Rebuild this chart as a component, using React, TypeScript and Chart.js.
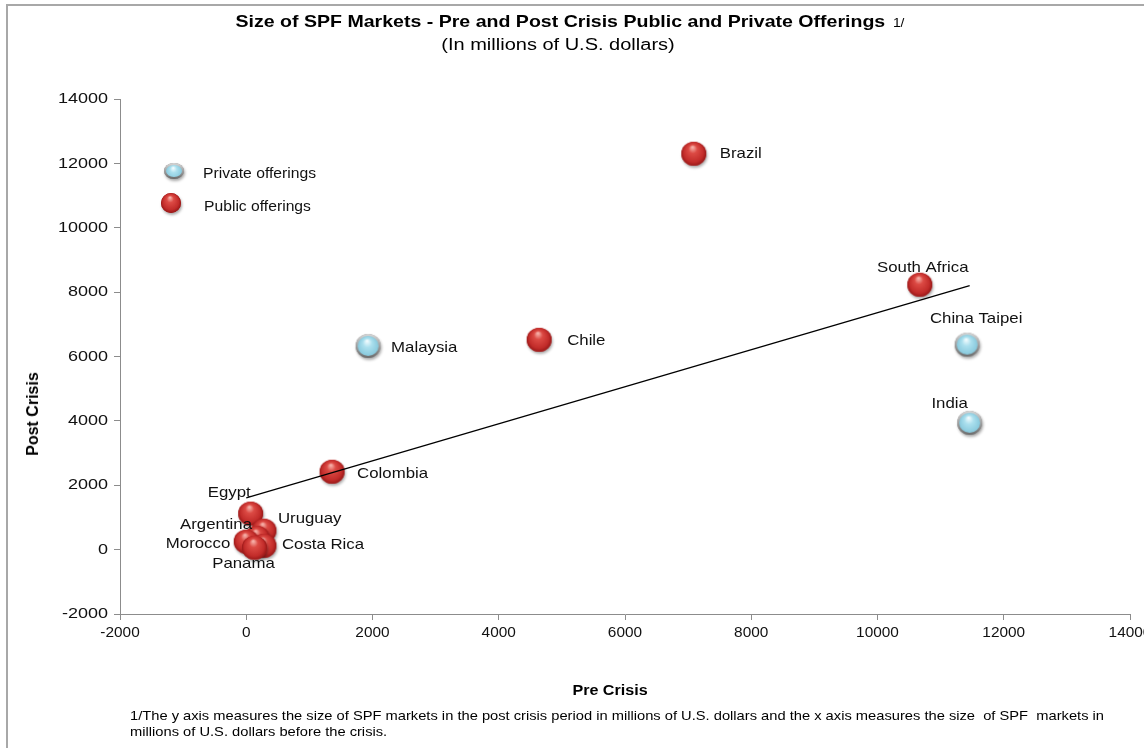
import React, { useEffect, useRef } from "react";
import { Chart, registerables } from "chart.js";

Chart.register(...registerables);

// ---- Data ----
const privateCountries = ["Malaysia", "China Taipei", "India"];
const privatePre = [1930, 11420, 11460];
const privatePost = [6330, 6370, 3940];

const publicCountries = ["Brazil", "South Africa", "Chile", "Colombia", "Egypt", "Uruguay", "Argentina", "Morocco", "Costa Rica", "Panama"];
const publicPre = [7090, 10670, 4640, 1360, 70, 280, 170, 0, 280, 130];
const publicPost = [12300, 8230, 6520, 2420, 1120, 590, 370, 250, 120, 60];

const trendPre = [0, 11460];
const trendPost = [1610, 8200];

const axisMin = -2000;
const axisMax = 14000;
const axisStep = 2000;

const legendLabels = ["Private offerings", "Public offerings"];

// label placement styles (not data)
const labelStyle: Record<string, [string, number, number]> = {
  Brazil: ["left", 26, 0],
  "South Africa": ["center", 3, -17],
  "China Taipei": ["center", 9, -26],
  India: ["center", -20, -19],
  Malaysia: ["left", 23, 2],
  Chile: ["left", 28, 1],
  Colombia: ["left", 25, 2],
  Egypt: ["right", 0, -21],
  Uruguay: ["left", 14, -12],
  Argentina: ["right", -5, -13],
  Morocco: ["right", -16, 2],
  "Costa Rica": ["left", 18, -1],
  Panama: ["center", -11, 16],
};

const FONT = "'Liberation Sans', Arial, sans-serif";

function makeBall(kind: "red" | "blue", r: number, ry?: number): HTMLCanvasElement {
  const rh = ry ?? r;
  const pad = 6;
  const c = document.createElement("canvas");
  c.width = Math.ceil(r * 2 + pad * 2);
  c.height = Math.ceil(rh * 2 + pad * 2);
  const ctx = c.getContext("2d")!;
  const cx = c.width / 2;
  const cy = c.height / 2;
  ctx.save();
  ctx.shadowColor = "rgba(0,0,0,0.35)";
  ctx.shadowBlur = 3;
  ctx.shadowOffsetX = 1;
  ctx.shadowOffsetY = 2;
  ctx.beginPath();
  ctx.ellipse(cx, cy, r, rh, 0, 0, Math.PI * 2);
  ctx.fillStyle = kind === "red" ? "#b82424" : "#8a8a8a";
  ctx.fill();
  ctx.restore();
  if (kind === "red") {
    const g = ctx.createRadialGradient(cx - r * 0.1, cy - rh * 0.55, r * 0.05, cx, cy, r * 1.05);
    g.addColorStop(0, "#f6b0a8");
    g.addColorStop(0.3, "#dc4a44");
    g.addColorStop(0.75, "#c22c2a");
    g.addColorStop(1, "#8e1414");
    ctx.beginPath();
    ctx.ellipse(cx, cy, r, rh, 0, 0, Math.PI * 2);
    ctx.fillStyle = g;
    ctx.fill();
  } else {
    ctx.beginPath();
    ctx.ellipse(cx, cy, r, rh, 0, 0, Math.PI * 2);
    const rg = ctx.createLinearGradient(cx, cy - rh, cx, cy + rh);
    rg.addColorStop(0, "#d8d8d8");
    rg.addColorStop(1, "#6a6a6a");
    ctx.fillStyle = rg;
    ctx.fill();
    const ir = r - 2;
    const irh = rh - 2;
    const g = ctx.createRadialGradient(cx - ir * 0.1, cy - irh * 0.5, ir * 0.05, cx, cy, ir);
    g.addColorStop(0, "#f0fbfe");
    g.addColorStop(0.4, "#ace0ee");
    g.addColorStop(1, "#86c8dc");
    ctx.beginPath();
    ctx.ellipse(cx, cy, ir, irh, 0, 0, Math.PI * 2);
    ctx.fillStyle = g;
    ctx.fill();
  }
  return c;
}

function stretchText(ctx: CanvasRenderingContext2D, text: string, x: number, y: number, sx: number) {
  ctx.save();
  ctx.translate(x, y);
  ctx.scale(sx, 1);
  ctx.fillText(text, 0, 0);
  ctx.restore();
}

export default function App() {
  const ref = useRef<HTMLCanvasElement | null>(null);

  useEffect(() => {
    if (!ref.current) return;
    const redBall = makeBall("red", 12.5, 12);
    const blueBall = makeBall("blue", 12.5, 12);
    const legendBlue = makeBall("blue", 10, 8);
    const legendRed = makeBall("red", 10, 10);

    const labelPlugin = {
      id: "pointLabels",
      afterDraw(chart: any) {
        const ctx = chart.ctx;
        const a = chart.chartArea;
        ctx.save();
        ctx.fillStyle = "#111";
        ctx.textBaseline = "middle";
        // tick labels
        const xs = chart.scales.x;
        const ys = chart.scales.y;
        ctx.font = `15px ${FONT}`;
        ctx.textAlign = "right";
        ys.ticks.forEach((t: any) => {
          stretchText(ctx, String(t.value), a.left - 12, ys.getPixelForValue(t.value), 1.2);
        });
        ctx.font = `14px ${FONT}`;
        ctx.textAlign = "center";
        xs.ticks.forEach((t: any) => {
          stretchText(ctx, String(t.value), xs.getPixelForValue(t.value), a.bottom + 19, 1.1);
        });
        // point labels
        ctx.font = `15px ${FONT}`;
        chart.data.datasets.forEach((ds: any, di: number) => {
          if (!ds.names) return;
          const meta = chart.getDatasetMeta(di);
          meta.data.forEach((el: any, i: number) => {
            const name = ds.names[i];
            const st = labelStyle[name] || ["left", 20, 0];
            ctx.textAlign = st[0];
            stretchText(ctx, name, el.x + st[1], el.y + st[2], 1.12);
          });
        });
        // legend
        const lx = a.left + 54;
        const ly = a.top + 72;
        ctx.drawImage(legendBlue, lx - legendBlue.width / 2, ly - legendBlue.height / 2);
        ctx.drawImage(legendRed, lx - 3 - legendRed.width / 2, ly + 32 - legendRed.height / 2);
        ctx.font = `14px ${FONT}`;
        ctx.textAlign = "left";
        stretchText(ctx, legendLabels[0], lx + 29, ly + 3, 1.12);
        stretchText(ctx, legendLabels[1], lx + 30, ly + 36, 1.12);
        ctx.restore();
      },
    };

    const chart = new Chart(ref.current, {
      type: "scatter",
      data: {
        datasets: [
          {
            label: "Trend",
            data: trendPre.map((x, i) => ({ x, y: trendPost[i] })),
            showLine: true,
            borderColor: "#000",
            borderWidth: 1.3,
            pointRadius: 0,
            order: 0,
          } as any,
          {
            label: legendLabels[0],
            names: privateCountries,
            data: privatePre.map((x, i) => ({ x, y: privatePost[i] })),
            pointStyle: blueBall,
            order: 1,
          } as any,
          {
            label: legendLabels[1],
            names: publicCountries,
            data: publicPre.map((x, i) => ({ x, y: publicPost[i] })),
            pointStyle: redBall,
            order: 1,
          } as any,
        ],
      },
      options: {
        responsive: false,
        animation: false,
        events: [],
        layout: { padding: { left: 0, top: 99, right: 14, bottom: 0 } },
        plugins: { legend: { display: false }, tooltip: { enabled: false }, title: { display: false } },
        scales: {
          x: {
            type: "linear",
            min: axisMin,
            max: axisMax,
            afterFit: (s: any) => {
              s.height = 134;
              s.paddingLeft = 0;
              s.paddingRight = 0;
            },
            ticks: { stepSize: axisStep, display: false },
            grid: { drawOnChartArea: false, drawTicks: true, tickLength: 6, color: "#8c8c8c" },
            border: { display: true, color: "#8c8c8c", width: 1 },
          },
          y: {
            type: "linear",
            min: axisMin,
            max: axisMax,
            afterFit: (s: any) => {
              s.width = 120;
              s.paddingTop = 0;
              s.paddingBottom = 0;
            },
            ticks: { stepSize: axisStep, display: false },
            grid: { drawOnChartArea: false, drawTicks: true, tickLength: 6, color: "#8c8c8c" },
            border: { display: true, color: "#8c8c8c", width: 1 },
          },
        },
      },
      plugins: [labelPlugin],
    });
    return () => chart.destroy();
  }, []);

  return (
    <div style={{ position: "fixed", left: 0, top: 0, width: 1144, height: 748, background: "#fff", overflow: "hidden", fontFamily: FONT }}>
      <div style={{ position: "absolute", left: 6, top: 4, width: 1160, height: 780, borderLeft: "2px solid #a8a8a8", borderTop: "2px solid #a8a8a8" }} />
      <canvas ref={ref} width={1144} height={748} style={{ position: "absolute", left: 0, top: 0 }} />
      <div style={{ position: "absolute", left: 570, top: 22, transform: "translate(-50%,-50%) scaleX(1.15)", color: "#000", whiteSpace: "nowrap" }}>
        <span style={{ fontWeight: "bold", fontSize: 17 }}>Size of SPF Markets - Pre and Post Crisis Public and Private Offerings</span>
        <span style={{ fontSize: 12 }}>&nbsp; 1/</span>
      </div>
      <div style={{ position: "absolute", left: 558, top: 45, transform: "translate(-50%,-50%) scaleX(1.25)", fontSize: 16, color: "#000", whiteSpace: "nowrap" }}>
        (In millions of U.S. dollars)
      </div>
      <div style={{ position: "absolute", left: 33, top: 414, transform: "translate(-50%,-50%) rotate(-90deg)", fontWeight: "bold", fontSize: 16, whiteSpace: "nowrap" }}>
        Post Crisis
      </div>
      <div style={{ position: "absolute", left: 610, top: 690, transform: "translate(-50%,-50%) scaleX(1.15)", fontWeight: "bold", fontSize: 14, whiteSpace: "nowrap" }}>
        Pre Crisis
      </div>
      <div style={{ position: "absolute", left: 130, top: 708, fontSize: 13, lineHeight: "16px", whiteSpace: "nowrap", color: "#000", transform: "scaleX(1.13)", transformOrigin: "left top" }}>
        1/The y axis measures the size of SPF markets in the post crisis period in millions of U.S. dollars and the x axis measures the size&nbsp; of SPF&nbsp; markets in
        <br />
        millions of U.S. dollars before the crisis.
      </div>
    </div>
  );
}
